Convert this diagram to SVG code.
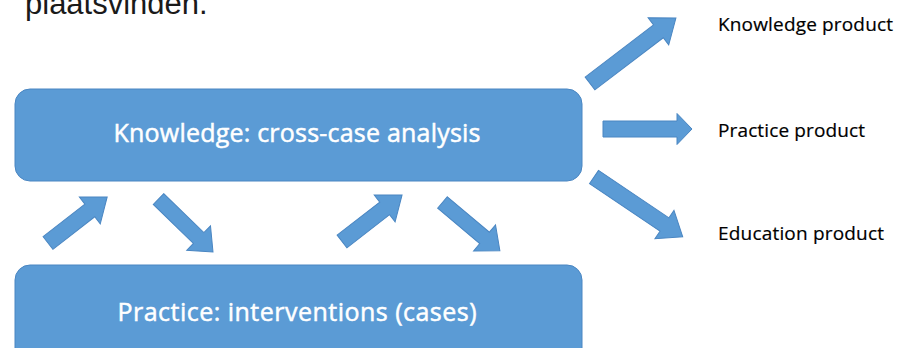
<svg xmlns="http://www.w3.org/2000/svg" width="917" height="348" viewBox="0 0 917 348">
  <style>
    .box { fill: #5B9BD5; stroke: #4A86C2; stroke-width: 1; }
    .arrow { fill: #5B9BD5; stroke: #4A86C2; stroke-width: 1; stroke-linejoin: miter; }
    .boxlabel { font-family: "Open Sans", "Liberation Sans", sans-serif; font-size: 25px; fill: #FFFFFF; stroke: #FFFFFF; stroke-width: 0.5; text-anchor: middle; }
    .label { font-family: "Open Sans", "Liberation Sans", sans-serif; font-size: 19px; fill: #000000; stroke: #000000; stroke-width: 0.2; }
    .top { font-family: "Liberation Sans", Arial, sans-serif; font-size: 31px; fill: #1A1A1A; }
  </style>
  <rect width="917" height="348" fill="#FFFFFF"/>
  <text class="top" x="25" y="14">plaatsvinden.</text>

  <g id="knowledge">
    <rect class="box" x="15" y="89" width="567" height="92" rx="15" ry="15"/>
    <text class="boxlabel" x="297" y="142" textLength="367">Knowledge: cross-case analysis</text>
  </g>
  <g id="practice">
    <rect class="box" x="15" y="265" width="567" height="110" rx="15" ry="15"/>
    <text class="boxlabel" x="297" y="321" textLength="359">Practice: interventions (cases)</text>
  </g>
  <g id="knowledge-product">
    <text class="label" x="718" y="31" textLength="175">Knowledge product</text>
  </g>
  <g id="practice-product">
    <text class="label" x="718" y="137" textLength="147">Practice product</text>
  </g>
  <g id="education-product">
    <text class="label" x="718" y="240" textLength="166">Education product</text>
  </g>

  <g id="connectors">
    <polygon class="arrow" transform="translate(48,243) rotate(-37.9)" points="0,-8 53,-8 53,-17 75,0 53,17 53,8 0,8"/>
    <polygon class="arrow" transform="translate(158.5,199) rotate(44.2)" points="0,-7.5 56,-7.5 56,-17 76,0 56,17 56,7.5 0,7.5"/>
    <polygon class="arrow" transform="translate(342,241.5) rotate(-37.8)" points="0,-8 54,-8 54,-17 76,0 54,17 54,8 0,8"/>
    <polygon class="arrow" transform="translate(442.5,202.5) rotate(40.1)" points="0,-7.5 55,-7.5 55,-17 75,0 55,17 55,7.5 0,7.5"/>
    <polygon class="arrow" transform="translate(590,83.5) rotate(-37.3)" points="0,-8 86,-8 86,-17 108,0 86,17 86,8 0,8"/>
    <polygon class="arrow" points="603,121 677,121 677,113.5 692,129 677,144.5 677,137 603,137"/>
    <polygon class="arrow" transform="translate(594,177) rotate(34)" points="0,-8 85,-8 85,-17 107,0 85,17 85,8 0,8"/>
  </g>
</svg>
